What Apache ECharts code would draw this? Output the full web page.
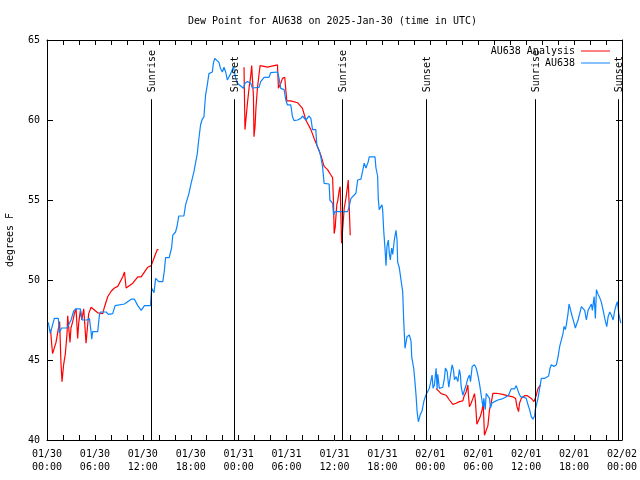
<!DOCTYPE html>
<html>
<head>
<meta charset="utf-8">
<script src="https://cdn.jsdelivr.net/npm/echarts@6/dist/echarts.min.js"></script>
<style>html,body{margin:0;padding:0;background:#fff;}#c{width:640px;height:480px;}</style>
</head>
<body>
<div id="c"></div>
<script>
// Hours since 2025-01-30 00:00 UTC
const dayLabels = ['01/30', '01/31', '02/01', '02/02'];

const obsTime = [0.16,0.41,0.58,0.92,1.42,1.54,1.83,2.51,3.01,3.34,3.64,4.18,4.39,5.02,5.31,5.52,5.6,5.72,6.35,6.56,6.69,7.4,7.69,8.23,8.53,9.7,10.54,10.95,11.37,11.8,12.2,12.96,13.1,13.4,13.6,14.0,14.5,14.7,14.85,15.3,15.6,15.75,16.1,16.3,16.5,17.14,17.35,17.77,17.98,18.4,18.6,18.82,18.94,19.23,19.45,19.65,19.74,19.86,20.08,20.28,20.7,20.83,21.0,21.15,21.53,21.74,21.96,22.16,22.37,22.58,23.0,23.34,23.63,23.84,24.59,24.79,25.09,25.51,25.72,26.55,26.76,27.18,27.8,28.02,28.86,29.06,29.27,29.69,29.9,30.11,30.53,30.74,30.94,31.37,31.78,31.99,32.41,32.62,32.82,33.04,33.25,33.66,33.79,34.08,34.29,34.5,34.7,35.33,35.42,35.76,35.88,36.05,37.64,37.84,38.06,38.68,38.9,39.31,39.52,39.72,39.94,40.23,40.35,40.78,40.98,41.07,41.19,41.4,41.48,41.6,41.94,42.03,42.16,42.32,42.45,42.57,42.74,42.86,42.99,43.16,43.29,43.49,43.7,43.83,43.91,44.1,44.33,44.54,44.67,44.83,45.08,45.37,45.58,45.67,45.92,46.09,46.21,46.34,46.5,46.75,46.96,47.18,47.43,47.88,48.09,48.22,48.34,48.51,48.72,48.85,48.93,49.13,49.56,49.76,49.89,50.1,50.31,50.51,50.73,50.89,51.02,51.23,51.44,51.64,51.77,51.86,52.07,52.2,52.48,52.7,52.9,53.03,53.24,53.53,53.74,53.95,54.15,54.37,54.58,54.7,54.87,55.0,55.2,55.41,55.53,55.71,56.04,56.46,56.88,57.29,57.79,58.13,58.34,58.55,58.76,58.97,59.1,59.3,59.6,59.8,60.01,60.23,60.43,60.64,60.85,61.05,61.14,61.27,61.48,61.68,61.9,62.1,62.3,62.52,62.81,62.99,63.15,63.49,63.78,63.99,64.19,64.4,64.62,64.74,64.91,65.03,65.16,65.24,65.37,65.57,65.75,65.95,66.16,66.29,66.5,66.7,66.91,67.13,67.33,67.54,67.75,67.96,68.17,68.29,68.51,68.67,68.8,69.01,69.21,69.42,69.64,69.84,70.09,70.26,70.47,70.68,70.89,71.09,71.31,71.43,71.6,71.85];
const obsDew = [47.35,46.67,46.98,47.6,47.6,46.7,47.0,47.0,47.5,48.06,48.2,48.2,47.5,47.5,47.6,46.77,46.3,46.77,46.77,47.8,48.0,48.0,47.85,47.9,48.4,48.5,48.8,48.8,48.4,48.1,48.4,48.4,49.5,49.2,50.1,49.9,49.9,50.6,51.4,51.4,52.0,52.8,53.0,53.4,54.0,54.0,54.7,55.4,55.9,56.77,57.3,57.9,58.5,59.7,60.06,60.2,60.83,61.56,62.23,62.9,63.0,63.54,63.85,63.96,63.6,63.2,63.0,63.3,63.0,62.5,62.9,63.33,62.6,62.3,61.98,62.3,62.4,62.3,62.0,62.04,62.4,62.67,62.67,62.96,63.0,62.6,61.98,61.9,61.25,60.94,60.94,60.2,59.96,60.0,60.1,60.25,60.0,59.9,60.25,60.1,59.4,59.4,58.4,58.1,57.7,57.1,56.04,56.0,55.0,54.8,54.06,54.27,54.27,54.6,55.1,55.42,56.25,56.3,56.8,57.3,57.0,57.4,57.7,57.7,57.6,57.7,57.0,56.5,55.1,54.4,54.7,54.4,53.1,52.0,50.9,52.1,52.5,51.7,51.25,52.0,51.6,52.5,53.1,52.5,51.1,50.8,50.73,49.27,47.4,45.73,46.46,46.56,46.2,45.2,44.48,43.54,42.8,41.8,41.14,41.6,41.8,42.4,42.8,43.23,43.75,44.06,43.23,43.44,44.48,43.2,44.1,43.23,43.3,43.85,44.5,44.3,43.3,44.0,44.7,44.4,43.77,43.96,43.65,44.4,44.06,43.33,42.8,43.0,43.44,43.85,44.06,43.65,44.6,44.7,44.5,44.06,43.54,42.8,42.08,42.6,41.9,42.9,42.8,42.6,42.0,42.3,42.4,42.5,42.55,42.64,42.8,43.2,43.3,43.2,43.4,43.4,42.9,42.7,42.7,42.75,42.6,42.2,41.9,41.46,41.3,41.5,41.9,42.0,42.6,43.2,43.85,43.8,43.85,43.96,44.0,44.48,44.7,44.6,44.7,45.2,45.83,45.9,46.67,47.1,46.9,47.2,47.2,47.9,48.5,48.1,47.75,47.4,47.0,47.2,47.5,47.9,48.33,48.44,48.1,47.5,48.1,48.2,48.5,48.1,48.96,47.6,49.4,49.1,48.9,48.6,48.1,47.6,47.08,47.7,48.0,47.8,47.5,48.1,48.5,48.65,47.9,47.3];

const anaTime = [0.45,0.55,0.7,0.83,1.13,1.33,1.58,1.75,1.88,2.08,2.3,2.51,2.59,2.8,2.88,3.0,3.22,3.43,3.64,3.84,3.97,4.18,4.35,4.6,4.8,4.89,5.02,5.22,5.52,5.72,6.35,6.56,6.98,7.19,7.6,8.03,8.44,8.86,9.49,9.7,9.82,9.91,10.74,11.37,11.79,12.62,13.05,13.46,13.8,13.96,null,24.67,24.79,25.0,25.09,25.3,25.5,25.63,25.76,25.85,25.92,26.05,26.17,26.35,26.68,27.18,27.6,28.43,28.86,28.98,29.27,29.49,29.77,29.9,30.03,30.53,31.37,31.99,32.41,33.04,33.45,33.88,34.29,34.7,35.13,35.55,35.76,35.88,35.96,36.09,36.17,36.3,36.39,36.59,36.71,36.89,37.01,37.22,37.43,37.64,37.72,37.84,37.97,null,48.72,49.35,49.97,50.39,50.82,51.23,51.64,52.07,52.2,52.48,52.7,52.77,52.9,53.11,53.33,53.53,53.65,53.83,54.08,54.28,54.49,54.62,54.78,55.03,55.21,55.41,55.62,55.83,56.25,57.09,57.63,58.34,58.67,58.85,59.05,59.17,59.39,59.8,60.14,60.64,60.98,61.27,61.48,61.81];
const anaDew = [46.9,46.2,45.4,45.4,46.1,46.7,47.4,44.8,43.65,44.7,45.4,46.67,47.77,47.77,46.1,47.0,47.4,47.9,48.2,46.35,47.3,48.1,47.5,48.2,48.2,46.05,46.8,47.9,48.3,48.3,47.95,47.9,47.9,48.3,48.95,49.3,49.5,49.6,50.2,50.5,50.5,49.5,49.8,50.2,50.2,50.8,50.9,51.45,51.9,51.9,null,63.3,59.4,59.4,61.0,62.0,62.7,63.4,63.4,61.5,58.96,59.6,60.8,62.0,63.4,63.35,63.3,63.4,63.44,61.98,62.3,62.6,62.67,61.9,61.2,61.2,61.08,60.73,60.0,59.4,58.85,58.33,57.8,57.1,56.9,56.56,56.4,54.8,52.9,53.3,53.9,54.75,54.9,55.6,55.83,52.3,53.1,54.5,55.1,55.9,56.25,56.25,52.8,null,43.23,42.9,42.8,42.5,42.23,42.3,42.4,42.44,42.7,43.0,43.44,42.8,42.08,42.3,42.6,42.9,42.4,40.98,40.98,41.5,41.9,42.3,40.3,40.3,40.9,41.9,42.3,42.92,42.92,42.85,42.77,42.7,42.6,42.08,41.77,42.3,42.6,42.77,42.77,42.6,42.4,42.8,43.23,43.44];

const eventTime = [12.97, 23.4, 36.96, 47.43, 61.05, 71.45];
const eventName = ['Sunrise', 'Sunset', 'Sunrise', 'Sunset', 'Sunrise', 'Sunset'];
const eventTop = 61.3;

const FONT = '"DejaVu Sans Mono", "Liberation Mono", monospace';
const RED = '#ff0000';
const BLUE = '#0a84ff';

function pairs(t, v) {
  return t.map((x, i) => (v[i] === null || x === null) ? ['-', '-'] : [x, v[i]]);
}
function pad(n) { return (n < 10 ? '0' : '') + n; }

const chart = echarts.init(document.getElementById('c'), null, { renderer: 'canvas' });

const axisCommon = {
  type: 'value', min: 0, max: 72, interval: 2,
  axisLine: { show: true, onZero: false, lineStyle: { color: '#000', width: 1 } },
  axisTick: { show: true, inside: true, length: 5, lineStyle: { color: '#000' } },
  splitLine: { show: false }
};
const yCommon = {
  type: 'value', min: 40, max: 65, interval: 5,
  axisLine: { show: true, onZero: false, lineStyle: { color: '#000', width: 1 } },
  axisTick: { show: true, inside: true, length: 6, lineStyle: { color: '#000' } },
  splitLine: { show: false }
};
const legendCommon = {
  orient: 'vertical', align: 'right', right: 30,
  itemWidth: 29, itemHeight: 1, itemGap: 0, padding: 0,
  icon: 'rect', inactiveColor: '#ccc', selectedMode: false,
  textStyle: { fontFamily: FONT, fontSize: 10, color: '#000', padding: [0, 1, 0, 0] }
};

chart.setOption({
  animation: false,
  backgroundColor: '#fff',
  title: {
    text: 'Dew Point for AU638 on 2025-Jan-30 (time in UTC)',
    left: 186, top: 14, padding: 2,
    textStyle: { fontFamily: FONT, fontSize: 10, fontWeight: 'normal', color: '#000' }
  },
  legend: [
    Object.assign({}, legendCommon, { data: ['AU638 Analysis'], top: 46 }),
    Object.assign({}, legendCommon, { data: ['AU638'], top: 58 })
  ],
  grid: { left: 47, right: 18, top: 40, bottom: 40, containLabel: false, outerBoundsMode: 'none' },
  xAxis: [
    Object.assign({}, axisCommon, {
      position: 'bottom',
      axisLabel: {
        show: true, margin: 8, fontFamily: FONT, fontSize: 10, color: '#000', lineHeight: 13,
        hideOverlap: false,
        formatter: function (v) {
          if (v % 6 !== 0) return '';
          return dayLabels[Math.floor(v / 24)] + '\n' + pad(v % 24) + ':00';
        }
      }
    }),
    Object.assign({}, axisCommon, { position: 'top', axisLabel: { show: false } })
  ],
  yAxis: [
    Object.assign({}, yCommon, {
      position: 'left',
      name: 'degrees F', nameLocation: 'middle', nameGap: 32,
      nameTextStyle: { fontFamily: FONT, fontSize: 10, color: '#000' },
      axisLabel: { show: true, margin: 7, fontFamily: FONT, fontSize: 10, color: '#000' }
    }),
    Object.assign({}, yCommon, { position: 'right', axisLabel: { show: false } })
  ],
  series: [
    {
      name: 'AU638 Analysis', type: 'line', data: pairs(anaTime, anaDew),
      showSymbol: false, symbol: 'none', connectNulls: false,
      lineStyle: { color: RED, width: 1.2 }, itemStyle: { color: RED }, z: 3
    },
    {
      name: 'AU638', type: 'line', data: pairs(obsTime, obsDew),
      showSymbol: false, symbol: 'none',
      lineStyle: { color: BLUE, width: 1.2 }, itemStyle: { color: BLUE }, z: 4
    },
    {
      name: 'events', type: 'custom', z: 5,
      data: eventTime.map((t, i) => [t, 50, i]),
      encode: { x: 0, y: 1 },
      clip: false,
      renderItem: function (params, api) {
        const x = Math.round(api.coord([api.value(0), 50])[0]) + 0.5;
        const yTop = api.coord([0, eventTop])[1];
        const yBot = api.coord([0, 40])[1];
        return {
          type: 'group',
          children: [
            { type: 'line', shape: { x1: x, y1: yTop, x2: x, y2: yBot }, style: { stroke: '#000', lineWidth: 1 } },
            { type: 'text', x: x + 1, y: yTop - 7, rotation: Math.PI / 2,
              style: { text: eventName[api.value(2)], fill: '#000', font: '10px ' + FONT, align: 'left', verticalAlign: 'middle' } }
          ]
        };
      }
    }
  ]
});
</script>
</body>
</html>
